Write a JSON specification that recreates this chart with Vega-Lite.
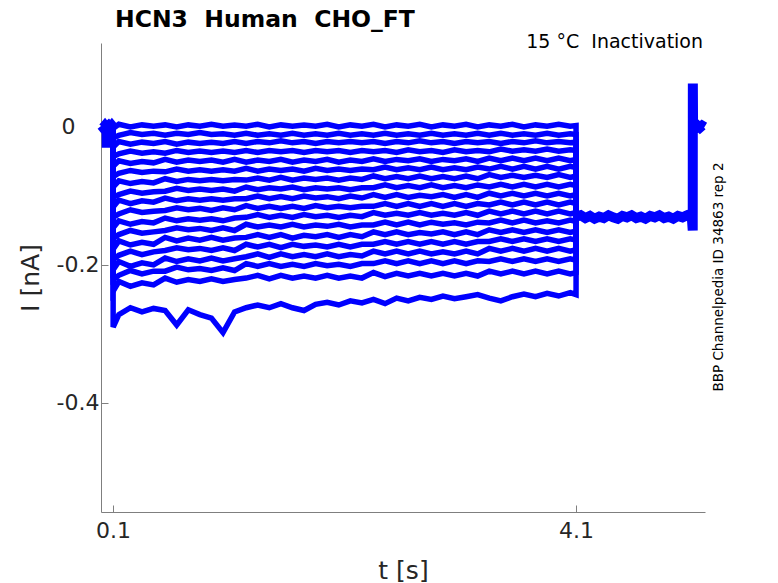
{
  "$schema": "https://vega.github.io/schema/vega-lite/v6.json",
  "width": 604,
  "height": 469,
  "autosize": {"type": "none"},
  "padding": {"left": 101, "top": 43, "right": 73, "bottom": 71},
  "config": {
    "font": "DejaVu Sans",
    "view": {"stroke": null},
    "axis": {
      "grid": false,
      "domainColor": "#7f7f7f",
      "tickColor": "#7f7f7f",
      "labelColor": "#262626",
      "titleColor": "#262626",
      "labelFontSize": 22,
      "titleFontSize": 25,
      "titleFontWeight": "normal",
      "tickSize": -7,
      "labelFlush": false,
      "labelOverlap": false
    }
  },
  "datasets": {
    "steps": [
      {"t":0.1,"a":0,"b":0,"c":0,"d":0,"e":0,"f":0,"g":0,"h":0,"i":0,"j":0,"k":0,"l":0,"m":0,"n":0,"o":0,"p":0,"q":0,"r":0},
      {"t":0.101,"a":-0.002,"b":-0.016,"c":-0.029,"d":-0.043,"e":-0.057,"f":-0.072,"g":-0.087,"h":-0.102,"i":-0.116,"j":-0.131,"k":-0.146,"l":-0.161,"m":-0.177,"n":-0.192,"o":-0.207,"p":-0.221,"q":-0.238,"r":-0.29},
      {"t":0.15,"a":0.004,"b":-0.012,"c":-0.021,"d":-0.039,"e":-0.049,"f":-0.067,"g":-0.078,"h":-0.098,"i":-0.106,"j":-0.126,"k":-0.136,"l":-0.156,"m":-0.165,"n":-0.186,"o":-0.195,"p":-0.215,"q":-0.224,"r":-0.272},
      {"t":0.25,"a":0.0,"b":-0.008,"c":-0.025,"d":-0.035,"e":-0.053,"f":-0.063,"g":-0.082,"h":-0.093,"i":-0.111,"j":-0.12,"k":-0.141,"l":-0.15,"m":-0.171,"n":-0.18,"o":-0.202,"p":-0.208,"q":-0.231,"r":-0.262},
      {"t":0.35,"a":0.003,"b":-0.011,"c":-0.022,"d":-0.038,"e":-0.05,"f":-0.066,"g":-0.079,"h":-0.096,"i":-0.107,"j":-0.124,"k":-0.137,"l":-0.154,"m":-0.167,"n":-0.185,"o":-0.197,"p":-0.213,"q":-0.226,"r":-0.268},
      {"t":0.45,"a":0.001,"b":-0.009,"c":-0.024,"d":-0.036,"e":-0.052,"f":-0.064,"g":-0.081,"h":-0.094,"i":-0.109,"j":-0.122,"k":-0.139,"l":-0.152,"m":-0.17,"n":-0.181,"o":-0.2,"p":-0.209,"q":-0.229,"r":-0.263},
      {"t":0.55,"a":0.003,"b":-0.012,"c":-0.021,"d":-0.038,"e":-0.047,"f":-0.065,"g":-0.075,"h":-0.093,"i":-0.103,"j":-0.121,"k":-0.132,"l":-0.15,"m":-0.16,"n":-0.179,"o":-0.19,"p":-0.209,"q":-0.219,"r":-0.266},
      {"t":0.65,"a":0.0,"b":-0.009,"c":-0.025,"d":-0.034,"e":-0.051,"f":-0.061,"g":-0.079,"h":-0.089,"i":-0.107,"j":-0.117,"k":-0.136,"l":-0.146,"m":-0.165,"n":-0.175,"o":-0.195,"p":-0.203,"q":-0.225,"r":-0.287},
      {"t":0.75,"a":0.003,"b":-0.011,"c":-0.022,"d":-0.037,"e":-0.048,"f":-0.064,"g":-0.076,"h":-0.092,"i":-0.104,"j":-0.12,"k":-0.133,"l":-0.149,"m":-0.161,"n":-0.178,"o":-0.191,"p":-0.207,"q":-0.221,"r":-0.265},
      {"t":0.85,"a":0.001,"b":-0.008,"c":-0.024,"d":-0.035,"e":-0.05,"f":-0.062,"g":-0.078,"h":-0.09,"i":-0.106,"j":-0.118,"k":-0.135,"l":-0.147,"m":-0.164,"n":-0.176,"o":-0.194,"p":-0.205,"q":-0.224,"r":-0.272},
      {"t":0.95,"a":0.004,"b":-0.011,"c":-0.022,"d":-0.037,"e":-0.048,"f":-0.064,"g":-0.076,"h":-0.092,"i":-0.104,"j":-0.121,"k":-0.133,"l":-0.15,"m":-0.16,"n":-0.179,"o":-0.19,"p":-0.208,"q":-0.22,"r":-0.277},
      {"t":1.05,"a":0.001,"b":-0.01,"c":-0.024,"d":-0.035,"e":-0.051,"f":-0.062,"g":-0.078,"h":-0.09,"i":-0.106,"j":-0.117,"k":-0.136,"l":-0.146,"m":-0.164,"n":-0.175,"o":-0.194,"p":-0.204,"q":-0.224,"r":-0.298},
      {"t":1.15,"a":0.003,"b":-0.012,"c":-0.021,"d":-0.037,"e":-0.047,"f":-0.064,"g":-0.076,"h":-0.093,"i":-0.104,"j":-0.12,"k":-0.132,"l":-0.15,"m":-0.161,"n":-0.179,"o":-0.191,"p":-0.208,"q":-0.221,"r":-0.268},
      {"t":1.25,"a":0.001,"b":-0.009,"c":-0.024,"d":-0.034,"e":-0.051,"f":-0.06,"g":-0.077,"h":-0.087,"i":-0.104,"j":-0.114,"k":-0.131,"l":-0.141,"m":-0.16,"n":-0.17,"o":-0.188,"p":-0.198,"q":-0.219,"r":-0.262},
      {"t":1.35,"a":0.004,"b":-0.012,"c":-0.021,"d":-0.037,"e":-0.048,"f":-0.064,"g":-0.074,"h":-0.091,"i":-0.1,"j":-0.118,"k":-0.127,"l":-0.145,"m":-0.156,"n":-0.174,"o":-0.184,"p":-0.202,"q":-0.215,"r":-0.258},
      {"t":1.45,"a":0.0,"b":-0.01,"c":-0.023,"d":-0.034,"e":-0.05,"f":-0.061,"g":-0.077,"h":-0.088,"i":-0.104,"j":-0.115,"k":-0.131,"l":-0.142,"m":-0.16,"n":-0.17,"o":-0.189,"p":-0.198,"q":-0.22,"r":-0.262},
      {"t":1.55,"a":0.003,"b":-0.012,"c":-0.02,"d":-0.036,"e":-0.047,"f":-0.063,"g":-0.073,"h":-0.09,"i":-0.101,"j":-0.118,"k":-0.128,"l":-0.145,"m":-0.156,"n":-0.175,"o":-0.184,"p":-0.202,"q":-0.215,"r":-0.256},
      {"t":1.65,"a":0.001,"b":-0.009,"c":-0.023,"d":-0.034,"e":-0.051,"f":-0.061,"g":-0.077,"h":-0.087,"i":-0.104,"j":-0.115,"k":-0.131,"l":-0.141,"m":-0.161,"n":-0.17,"o":-0.188,"p":-0.199,"q":-0.219,"r":-0.262},
      {"t":1.75,"a":0.003,"b":-0.012,"c":-0.021,"d":-0.037,"e":-0.048,"f":-0.064,"g":-0.074,"h":-0.091,"i":-0.1,"j":-0.118,"k":-0.127,"l":-0.145,"m":-0.157,"n":-0.173,"o":-0.185,"p":-0.202,"q":-0.216,"r":-0.266},
      {"t":1.85,"a":0.001,"b":-0.01,"c":-0.024,"d":-0.034,"e":-0.05,"f":-0.06,"g":-0.076,"h":-0.088,"i":-0.103,"j":-0.114,"k":-0.13,"l":-0.142,"m":-0.159,"n":-0.171,"o":-0.188,"p":-0.198,"q":-0.219,"r":-0.257},
      {"t":1.95,"a":0.004,"b":-0.012,"c":-0.021,"d":-0.036,"e":-0.047,"f":-0.063,"g":-0.074,"h":-0.09,"i":-0.101,"j":-0.117,"k":-0.128,"l":-0.144,"m":-0.156,"n":-0.174,"o":-0.184,"p":-0.201,"q":-0.215,"r":-0.254},
      {"t":2.05,"a":0.0,"b":-0.009,"c":-0.023,"d":-0.034,"e":-0.051,"f":-0.061,"g":-0.077,"h":-0.088,"i":-0.104,"j":-0.115,"k":-0.131,"l":-0.141,"m":-0.16,"n":-0.17,"o":-0.188,"p":-0.199,"q":-0.219,"r":-0.258},
      {"t":2.15,"a":0.003,"b":-0.012,"c":-0.021,"d":-0.037,"e":-0.048,"f":-0.063,"g":-0.074,"h":-0.091,"i":-0.1,"j":-0.117,"k":-0.128,"l":-0.145,"m":-0.156,"n":-0.174,"o":-0.185,"p":-0.202,"q":-0.216,"r":-0.252},
      {"t":2.25,"a":0.001,"b":-0.01,"c":-0.023,"d":-0.034,"e":-0.05,"f":-0.061,"g":-0.076,"h":-0.088,"i":-0.103,"j":-0.115,"k":-0.13,"l":-0.142,"m":-0.159,"n":-0.17,"o":-0.187,"p":-0.198,"q":-0.219,"r":-0.255},
      {"t":2.35,"a":0.004,"b":-0.012,"c":-0.021,"d":-0.036,"e":-0.046,"f":-0.062,"g":-0.071,"h":-0.088,"i":-0.098,"j":-0.115,"k":-0.124,"l":-0.142,"m":-0.152,"n":-0.17,"o":-0.18,"p":-0.198,"q":-0.211,"r":-0.25},
      {"t":2.45,"a":0.0,"b":-0.009,"c":-0.024,"d":-0.034,"e":-0.05,"f":-0.058,"g":-0.075,"h":-0.084,"i":-0.102,"j":-0.111,"k":-0.128,"l":-0.138,"m":-0.156,"n":-0.166,"o":-0.184,"p":-0.194,"q":-0.217,"r":-0.256},
      {"t":2.55,"a":0.003,"b":-0.012,"c":-0.021,"d":-0.037,"e":-0.047,"f":-0.062,"g":-0.072,"h":-0.088,"i":-0.098,"j":-0.115,"k":-0.125,"l":-0.142,"m":-0.152,"n":-0.17,"o":-0.18,"p":-0.198,"q":-0.212,"r":-0.248},
      {"t":2.65,"a":0.001,"b":-0.01,"c":-0.023,"d":-0.033,"e":-0.049,"f":-0.059,"g":-0.075,"h":-0.085,"i":-0.102,"j":-0.111,"k":-0.128,"l":-0.138,"m":-0.156,"n":-0.166,"o":-0.184,"p":-0.194,"q":-0.216,"r":-0.252},
      {"t":2.75,"a":0.004,"b":-0.012,"c":-0.02,"d":-0.036,"e":-0.046,"f":-0.062,"g":-0.071,"h":-0.088,"i":-0.099,"j":-0.115,"k":-0.124,"l":-0.142,"m":-0.153,"n":-0.17,"o":-0.18,"p":-0.198,"q":-0.212,"r":-0.247},
      {"t":2.85,"a":0.0,"b":-0.009,"c":-0.023,"d":-0.034,"e":-0.05,"f":-0.058,"g":-0.075,"h":-0.084,"i":-0.101,"j":-0.111,"k":-0.128,"l":-0.138,"m":-0.155,"n":-0.166,"o":-0.184,"p":-0.194,"q":-0.216,"r":-0.25},
      {"t":2.95,"a":0.003,"b":-0.012,"c":-0.021,"d":-0.037,"e":-0.047,"f":-0.062,"g":-0.072,"h":-0.088,"i":-0.098,"j":-0.115,"k":-0.125,"l":-0.141,"m":-0.152,"n":-0.17,"o":-0.181,"p":-0.198,"q":-0.212,"r":-0.245},
      {"t":3.05,"a":0.001,"b":-0.01,"c":-0.024,"d":-0.033,"e":-0.049,"f":-0.059,"g":-0.075,"h":-0.085,"i":-0.102,"j":-0.111,"k":-0.128,"l":-0.139,"m":-0.156,"n":-0.166,"o":-0.184,"p":-0.194,"q":-0.216,"r":-0.249},
      {"t":3.15,"a":0.004,"b":-0.012,"c":-0.021,"d":-0.036,"e":-0.046,"f":-0.062,"g":-0.071,"h":-0.088,"i":-0.098,"j":-0.115,"k":-0.124,"l":-0.142,"m":-0.152,"n":-0.17,"o":-0.18,"p":-0.198,"q":-0.212,"r":-0.246},
      {"t":3.25,"a":0.0,"b":-0.009,"c":-0.023,"d":-0.034,"e":-0.05,"f":-0.058,"g":-0.075,"h":-0.084,"i":-0.102,"j":-0.111,"k":-0.128,"l":-0.138,"m":-0.156,"n":-0.166,"o":-0.184,"p":-0.194,"q":-0.216,"r":-0.243},
      {"t":3.35,"a":0.003,"b":-0.012,"c":-0.021,"d":-0.036,"e":-0.045,"f":-0.061,"g":-0.069,"h":-0.087,"i":-0.096,"j":-0.113,"k":-0.122,"l":-0.139,"m":-0.149,"n":-0.166,"o":-0.176,"p":-0.195,"q":-0.209,"r":-0.248},
      {"t":3.45,"a":0.001,"b":-0.009,"c":-0.024,"d":-0.032,"e":-0.049,"f":-0.057,"g":-0.073,"h":-0.083,"i":-0.1,"j":-0.109,"k":-0.126,"l":-0.135,"m":-0.153,"n":-0.162,"o":-0.18,"p":-0.191,"q":-0.213,"r":-0.252},
      {"t":3.55,"a":0.004,"b":-0.012,"c":-0.021,"d":-0.035,"e":-0.045,"f":-0.061,"g":-0.07,"h":-0.087,"i":-0.096,"j":-0.113,"k":-0.122,"l":-0.139,"m":-0.149,"n":-0.166,"o":-0.176,"p":-0.195,"q":-0.209,"r":-0.246},
      {"t":3.65,"a":0.0,"b":-0.01,"c":-0.023,"d":-0.033,"e":-0.049,"f":-0.057,"g":-0.073,"h":-0.083,"i":-0.1,"j":-0.109,"k":-0.126,"l":-0.135,"m":-0.153,"n":-0.162,"o":-0.18,"p":-0.191,"q":-0.213,"r":-0.242},
      {"t":3.75,"a":0.003,"b":-0.012,"c":-0.02,"d":-0.035,"e":-0.045,"f":-0.061,"g":-0.07,"h":-0.087,"i":-0.096,"j":-0.113,"k":-0.122,"l":-0.139,"m":-0.149,"n":-0.166,"o":-0.176,"p":-0.195,"q":-0.209,"r":-0.246},
      {"t":3.85,"a":0.001,"b":-0.009,"c":-0.023,"d":-0.032,"e":-0.049,"f":-0.057,"g":-0.073,"h":-0.083,"i":-0.1,"j":-0.109,"k":-0.126,"l":-0.136,"m":-0.153,"n":-0.162,"o":-0.18,"p":-0.191,"q":-0.213,"r":-0.241},
      {"t":3.95,"a":0.004,"b":-0.012,"c":-0.021,"d":-0.035,"e":-0.045,"f":-0.061,"g":-0.069,"h":-0.087,"i":-0.096,"j":-0.113,"k":-0.122,"l":-0.139,"m":-0.149,"n":-0.166,"o":-0.176,"p":-0.195,"q":-0.209,"r":-0.245},
      {"t":4.05,"a":0.001,"b":-0.01,"c":-0.023,"d":-0.033,"e":-0.049,"f":-0.057,"g":-0.073,"h":-0.083,"i":-0.1,"j":-0.109,"k":-0.126,"l":-0.135,"m":-0.153,"n":-0.162,"o":-0.18,"p":-0.191,"q":-0.213,"r":-0.24},
      {"t":4.1,"a":0.002,"b":-0.011,"c":-0.022,"d":-0.034,"e":-0.047,"f":-0.059,"g":-0.071,"h":-0.085,"i":-0.098,"j":-0.111,"k":-0.124,"l":-0.137,"m":-0.151,"n":-0.164,"o":-0.178,"p":-0.193,"q":-0.211,"r":-0.243},
      {"t":4.101,"a":-0.128,"b":-0.131,"c":-0.127,"d":-0.133,"e":-0.129,"f":-0.132,"g":-0.126,"h":-0.134,"i":-0.13,"j":-0.128,"k":-0.133,"l":-0.127,"m":-0.131,"n":-0.129,"o":-0.134,"p":-0.126,"q":-0.132,"r":-0.13}
    ],
    "ends": [
      {"part":"pre","t":0.0,"I":0.002},
      {"part":"pre","t":0.015,"I":-0.001},
      {"part":"pre","t":0.03,"I":0.002},
      {"part":"pre","t":0.044,"I":-0.001},
      {"part":"pre","t":0.045,"I":-0.03},
      {"part":"pre","t":0.046,"I":0.0},
      {"part":"pre","t":0.06,"I":0.002},
      {"part":"pre","t":0.075,"I":-0.001},
      {"part":"pre","t":0.09,"I":0.002},
      {"part":"pre","t":0.1,"I":0.0},
      {"part":"post","t":4.101,"I":-0.13},
      {"part":"post","t":4.14,"I":-0.128},
      {"part":"post","t":4.18,"I":-0.132},
      {"part":"post","t":4.22,"I":-0.129},
      {"part":"post","t":4.26,"I":-0.133},
      {"part":"post","t":4.3,"I":-0.13},
      {"part":"post","t":4.34,"I":-0.132},
      {"part":"post","t":4.38,"I":-0.128},
      {"part":"post","t":4.42,"I":-0.131},
      {"part":"post","t":4.46,"I":-0.133},
      {"part":"post","t":4.5,"I":-0.129},
      {"part":"post","t":4.54,"I":-0.131},
      {"part":"post","t":4.58,"I":-0.128},
      {"part":"post","t":4.62,"I":-0.132},
      {"part":"post","t":4.66,"I":-0.13},
      {"part":"post","t":4.7,"I":-0.133},
      {"part":"post","t":4.74,"I":-0.129},
      {"part":"post","t":4.78,"I":-0.131},
      {"part":"post","t":4.82,"I":-0.128},
      {"part":"post","t":4.86,"I":-0.132},
      {"part":"post","t":4.9,"I":-0.13},
      {"part":"post","t":4.94,"I":-0.133},
      {"part":"post","t":4.98,"I":-0.129},
      {"part":"post","t":5.02,"I":-0.131},
      {"part":"post","t":5.06,"I":-0.128},
      {"part":"post","t":5.1,"I":-0.131},
      {"part":"post","t":5.108,"I":-0.15},
      {"part":"post","t":5.109,"I":0.063},
      {"part":"post","t":5.111,"I":0.001},
      {"part":"post","t":5.13,"I":-0.002},
      {"part":"post","t":5.15,"I":0.002},
      {"part":"post","t":5.17,"I":-0.001},
      {"part":"post","t":5.19,"I":0.002},
      {"part":"post","t":5.21,"I":0.0}
    ],
    "notes": [
      {"t": 0.117, "I": 0.1449, "label": "HCN3\u00a0\u00a0Human\u00a0\u00a0CHO_FT"}
    ]
  },
  "encoding": {
    "x": {
      "field": "t",
      "type": "quantitative",
      "scale": {"domain": [-0.004, 5.214], "nice": false, "zero": false},
      "axis": {"values": [0.1, 4.1], "format": ".1f", "title": "t [s]", "labelPadding": 15, "titlePadding": 17}
    },
    "y": {
      "field": "I",
      "type": "quantitative",
      "scale": {"domain": [-0.558, 0.1217], "nice": false, "zero": false},
      "axis": {
        "values": [0, -0.2, -0.4],
        "labelExpr": "datum.value == 0 ? '0' : (datum.value < -0.3 ? '-0.4' : '-0.2')",
        "title": "I [nA]",
        "labelPadding": {"condition": {"test": "datum.value == 0", "value": 33}, "value": 9},
        "titlePadding": 13
      }
    }
  },
  "layer": [
    {
      "data": {"name": "steps"},
      "transform": [
        {"fold": ["a","b","c","d","e","f","g","h","i","j","k","l","m","n","o","p","q","r"], "as": ["trace", "I"]}
      ],
      "mark": {"type": "line", "color": "#0000ff", "strokeWidth": 5.5},
      "encoding": {"detail": {"field": "trace"}}
    },
    {
      "data": {"name": "ends"},
      "mark": {"type": "line", "color": "#0000ff", "strokeWidth": 10},
      "encoding": {"detail": {"field": "part"}}
    },
    {
      "data": {"name": "notes"},
      "mark": {"type": "text", "align": "left", "baseline": "alphabetic", "fontSize": 23.5, "fontWeight": "bold", "color": "#000000"},
      "encoding": {"text": {"field": "label"}}
    },
    {
      "data": {"values": [{"t": 5.197, "I": 0.1145, "label": "15 °C\u00a0\u00a0Inactivation"}]},
      "mark": {"type": "text", "align": "right", "baseline": "alphabetic", "fontSize": 19, "color": "#000000"},
      "encoding": {"text": {"field": "label"}}
    },
    {
      "data": {"values": [{"t": 5.37, "I": -0.2174, "label": "BBP Channelpedia ID 34863 rep 2"}]},
      "mark": {"type": "text", "align": "center", "baseline": "alphabetic", "angle": 270, "fontSize": 13.5, "color": "#000000"},
      "encoding": {"text": {"field": "label"}}
    }
  ]
}
